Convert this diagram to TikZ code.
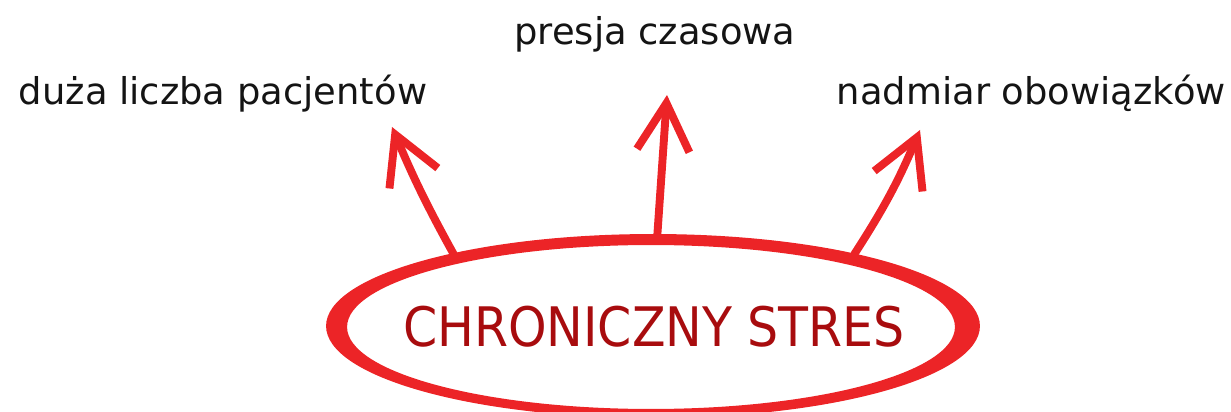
\documentclass[tikz,border=0pt]{standalone}
\usepackage{fontspec}
\setmainfont{DejaVu Sans}
\newfontfamily\condfont{DejaVu Sans Condensed}
\usepackage{tikz}
\usetikzlibrary{shapes.geometric, arrows.meta, positioning, calc}
\definecolor{myred}{RGB}{236,36,39}
\definecolor{mydarkred}{RGB}{168,12,14}
\definecolor{mydark}{RGB}{20,20,20}
\tikzset{
  cause/.style={font=\fontsize{21}{25}\selectfont, text=mydark, inner sep=0pt},
  core/.style={ellipse, minimum width=13.08cm, minimum height=3.52cm,
    inner sep=0pt, font=\condfont\fontsize{31}{36}\selectfont, text=mydarkred},
  arrow/.style={-{Straight Barb[length=0.95cm, width=1.05cm]}, line width=4.5pt,
    color=myred, line cap=round, line join=round}
}

\begin{document}
\begin{tikzpicture}[x=0.02cm, y=-0.02cm]
  \useasboundingbox (0,0) rectangle (1231,412);
  % hand-drawn ring
  \fill[myred, even odd rule] (653,326) ellipse [x radius=6.54cm, y radius=1.84cm]
       (651,327) ellipse [x radius=6.08cm, y radius=1.64cm];
  \node[core] (stres) at (654,327) {CHRONICZNY STRES};
  % causes
  \node[cause, anchor=base] (pacjenci) at (223,105) {duża liczba pacjentów};
  \node[cause, anchor=base] (presja) at (655,45) {presja czasowa};
  \node[cause, anchor=base east] (obowiazki) at (1226,105) {nadmiar obowiązków};
  % arrow tips
  \coordinate (tipL) at (392,127);
  \coordinate (tipM) at (667,95);
  \coordinate (tipR) at (920,130);
  \draw[arrow] (stres.160) to[bend left=3] (tipL);
  \draw[arrow] (stres.88) -- (tipM);
  \draw[arrow] (stres.20) to[bend right=5] (tipR);
\end{tikzpicture}
\end{document}
